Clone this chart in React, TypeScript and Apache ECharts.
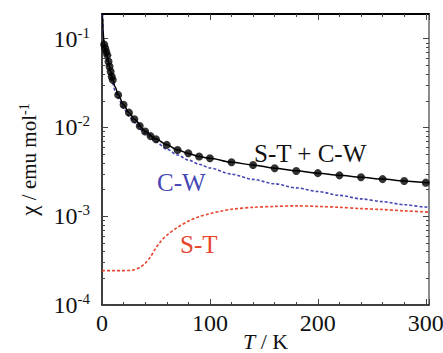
import React, { useEffect, useRef } from "react";
import * as echarts from "echarts";

// Measured data points (T / K, chi / emu mol^-1)
const dataT = [2, 3, 4, 5, 6, 7, 8, 9, 10, 15, 20, 25, 30, 35, 40, 45, 50, 60, 70, 80, 90, 100, 120, 140, 160, 180, 200, 220, 240, 260, 280, 300];
const dataChi = [0.086, 0.078, 0.071, 0.065, 0.0553, 0.0486, 0.0427, 0.0375, 0.0344, 0.0233, 0.018, 0.0147, 0.0124, 0.0104, 0.009, 0.008, 0.00738, 0.00637, 0.00558, 0.00513, 0.00472, 0.00451, 0.00406, 0.00378, 0.00347, 0.00324, 0.00306, 0.00289, 0.00275, 0.00262, 0.0025, 0.00239];

// Fit curves
const fitT = [0.2, 0.5, 1, 1.5, 2, 3, 4, 5, 6, 8, 10, 12, 15, 20, 25, 30, 40, 50, 60, 70, 80, 90, 100, 120, 140, 160, 180, 200, 220, 240, 260, 280, 300, 303];
const totalChi = [0.3, 0.18, 0.125, 0.1, 0.09, 0.078, 0.07, 0.062, 0.055, 0.043, 0.035, 0.029, 0.0235, 0.018, 0.0147, 0.0124, 0.0091, 0.0074, 0.0064, 0.0056, 0.0051, 0.0047, 0.0045, 0.00406, 0.00378, 0.00348, 0.00325, 0.00306, 0.0029, 0.00275, 0.00262, 0.0025, 0.0024, 0.00238];
const cwChi = [0.28, 0.17, 0.118, 0.095, 0.085, 0.072, 0.062, 0.053, 0.046, 0.037, 0.031, 0.026, 0.0215, 0.0165, 0.0135, 0.0114, 0.0086, 0.0069, 0.0057, 0.0049, 0.0043, 0.00385, 0.0035, 0.00298, 0.0026, 0.00232, 0.00209, 0.0019, 0.00172, 0.00157, 0.00146, 0.00135, 0.00127, 0.00126];
const stT = [0, 10, 20, 25, 30, 35, 40, 45, 50, 55, 60, 70, 80, 90, 100, 110, 120, 140, 160, 180, 200, 220, 240, 260, 280, 300, 303];
const stChi = [2.44e-4, 2.44e-4, 2.44e-4, 2.45e-4, 2.5e-4, 2.65e-4, 2.95e-4, 3.5e-4, 4.4e-4, 5.3e-4, 6.1e-4, 7.5e-4, 8.8e-4, 9.9e-4, 1.07e-3, 1.14e-3, 1.2e-3, 1.26e-3, 1.29e-3, 1.31e-3, 1.29e-3, 1.26e-3, 1.22e-3, 1.19e-3, 1.15e-3, 1.12e-3, 1.11e-3];

// Axis ticks
const xLabels = [0, 100, 200, 300];
const yMajorTicks = [1e-4, 1e-3, 1e-2, 1e-1];
const yMinorTicks = [2e-4, 3e-4, 4e-4, 5e-4, 6e-4, 7e-4, 8e-4, 9e-4, 2e-3, 3e-3, 4e-3, 5e-3, 6e-3, 7e-3, 8e-3, 9e-3, 2e-2, 3e-2, 4e-2, 5e-2, 6e-2, 7e-2, 8e-2, 9e-2];

const FONT = "Liberation Serif";
const BLUE = "#4646b4";
const RED = "#e8452e";

export default function App() {
  const ref = useRef<HTMLDivElement>(null);
  useEffect(() => {
    document.body.style.margin = "0";
    const chart = echarts.init(ref.current!, undefined, { renderer: "svg" });
    const zip = (xs: number[], ys: number[]) => xs.map((x, i) => [x, ys[i]]);
    const baseY = {
      type: "log" as const,
      min: 1e-4,
      max: 0.19,
      splitLine: { show: false },
      minorSplitLine: { show: false },
    };
    const yMajor = (pos: string, labels: boolean) => ({
      ...baseY,
      position: pos,
      axisLine: { show: true, lineStyle: { color: pos === "left" ? "#000" : "#666", width: 1.5 } },
      axisTick: { show: true, inside: true, length: 6, customValues: yMajorTicks, lineStyle: { color: "#444" } },
      axisLabel: labels
        ? {
            show: true,
            customValues: yMajorTicks,
            margin: 12,
            fontFamily: FONT,
            fontSize: 24,
            formatter: (v: number) => `{b|10}{s|${Math.round(Math.log10(v))}}`,
            rich: {
              b: { fontFamily: FONT, fontSize: 24, color: "#111" },
              s: { fontFamily: FONT, fontSize: 15, color: "#111", padding: [0, 0, 12, 0] },
            },
          }
        : { show: false },
      ...(labels
        ? {
            name: "{g|χ} / emu mol{s|-1}",
            nameLocation: "middle",
            nameGap: 61,
            nameMoveOverlap: false,
            nameTextStyle: {
              fontFamily: FONT,
              fontSize: 21,
              color: "#111",
              rich: {
                g: { fontFamily: FONT, fontSize: 23, color: "#111" },
                s: { fontFamily: FONT, fontSize: 14, color: "#111", padding: [0, 0, 10, 0] },
              },
            },
          }
        : {}),
    });
    const yMinor = (pos: string) => ({
      ...baseY,
      position: pos,
      axisLine: { show: false },
      axisTick: { show: true, inside: true, length: 3, customValues: yMinorTicks, lineStyle: { color: "#444" } },
      axisLabel: { show: false },
    });
    const xBase = {
      type: "value" as const,
      min: 0,
      max: 303,
      interval: 100,
      splitLine: { show: false },
      minorSplitLine: { show: false },
      axisTick: { show: true, inside: true, length: 6, lineStyle: { color: "#444" } },
      minorTick: { show: true, splitNumber: 5, length: 3, lineStyle: { color: "#444" } },
    };
    chart.setOption({
      animation: false,
      textStyle: { fontFamily: FONT },
      grid: { left: 102, right: 14, top: 14, bottom: 48, containLabel: false, outerBoundsMode: "none" },
      xAxis: [
        {
          ...xBase,
          position: "bottom",
          axisLine: { show: true, lineStyle: { color: "#000", width: 1.5 } },
          axisLabel: { show: true, fontFamily: FONT, fontSize: 24, color: "#111", margin: 6, customValues: xLabels },
          name: "{i|T} / K",
          nameLocation: "middle",
          nameGap: 26,
          nameMoveOverlap: false,
          nameTextStyle: {
            fontFamily: FONT,
            fontSize: 22,
            lineHeight: 20,
            color: "#111",
            rich: { i: { fontFamily: FONT, fontSize: 22, lineHeight: 20, fontStyle: "italic", color: "#111" } },
          },
        },
        {
          ...xBase,
          position: "top",
          axisLine: { show: true, lineStyle: { color: "#000", width: 2 } },
          axisLabel: { show: false },
        },
      ],
      yAxis: [yMajor("left", true), yMinor("left"), yMajor("right", false), yMinor("right")],
      series: [
        {
          type: "line",
          name: "S-T",
          data: zip(stT, stChi),
          showSymbol: false,
          smooth: 0.3,
          lineStyle: { color: RED, width: 1.6, type: [3, 2] },
          z: 2,
        },
        {
          type: "line",
          name: "C-W",
          data: zip(fitT, cwChi),
          showSymbol: false,
          smooth: 0.3,
          smoothMonotone: "x",
          lineStyle: { color: BLUE, width: 1.6, type: [3, 2] },
          z: 2,
        },
        {
          type: "line",
          name: "S-T + C-W",
          data: zip(fitT, totalChi),
          showSymbol: false,
          smooth: 0.3,
          smoothMonotone: "x",
          lineStyle: { color: "#000", width: 1.5 },
          z: 3,
        },
        {
          type: "scatter",
          name: "data",
          data: zip(dataT, dataChi),
          symbol: "circle",
          symbolSize: 8,
          itemStyle: { color: "#000" },
          z: 4,
        },
      ],
      graphic: [
        { type: "text", left: 254, top: 141, style: { text: "S-T + C-W", fontFamily: FONT, fontSize: 25, fill: "#111" } },
        { type: "text", left: 157, top: 170, style: { text: "C-W", fontFamily: FONT, fontSize: 25, fill: BLUE } },
        { type: "text", left: 180, top: 232, style: { text: "S-T", fontFamily: FONT, fontSize: 25, fill: RED } },
      ],
    });
    return () => chart.dispose();
  }, []);
  return <div ref={ref} style={{ width: 443, height: 353 }} />;
}
